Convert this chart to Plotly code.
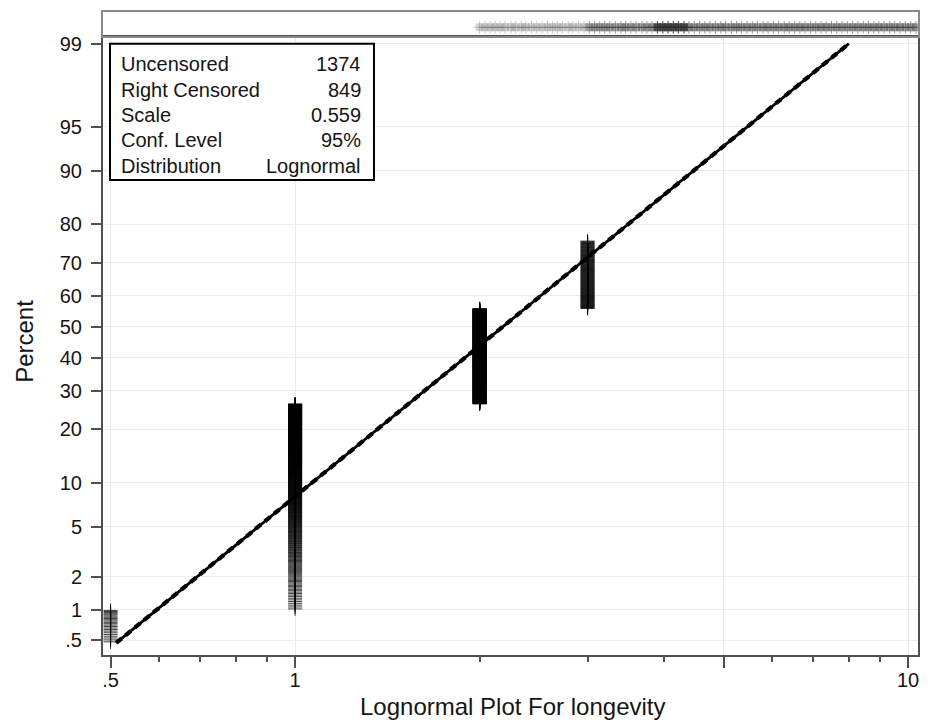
import math
from statistics import NormalDist
import plotly.graph_objects as go

nd = NormalDist()


def zq(pct):
    return nd.inv_cdf(pct / 100.0)


# ---------------- data ----------------
# uncensored (failure) groups: time, number of failures, percent range spanned by their plotting positions
fail_times = [0.5, 1, 2, 3]
fail_counts = [23, 575, 645, 131]
fail_pct_lo = [0.47, 1.0, 26.3, 55.9]
fail_pct_hi = [1.0, 26.3, 55.9, 76.0]

# right-censored times (rug in top strip) and their multiplicities
cens_times = [2.00, 2.04, 2.08, 2.12, 2.16, 2.20, 2.25, 2.29, 2.34, 2.38, 2.43, 2.48, 2.53, 2.58,
              2.63, 2.68, 2.73, 2.79, 2.84, 2.90, 2.96, 3.02, 3.08, 3.14, 3.20, 3.26, 3.33, 3.40,
              3.46, 3.53, 3.60, 3.68, 3.75, 3.82, 3.90, 3.98, 4.06, 4.14, 4.22, 4.31, 4.39, 4.48,
              4.57, 4.66, 4.75, 4.85, 4.95, 5.04, 5.15, 5.25, 5.35, 5.46, 5.57, 5.68, 5.80, 5.91,
              6.03, 6.15, 6.28, 6.40, 6.53, 6.66, 6.79, 6.93, 7.07, 7.21, 7.35, 7.50, 7.65, 7.80,
              7.96, 8.12, 8.28, 8.45, 8.62, 8.79, 8.96, 9.14, 9.33, 9.51, 9.70, 9.90, 10.10, 10.30]
cens_counts = [3, 3, 3, 3, 3, 3, 3, 3, 3, 3, 3, 3, 3, 3,
               3, 3, 3, 3, 3, 3, 3, 10, 10, 10, 10, 10, 10, 10,
               10, 10, 10, 10, 10, 10, 25, 25, 25, 25, 25, 25, 12, 11,
               11, 11, 11, 11, 11, 11, 11, 11, 11, 11, 11, 11, 11, 11,
               11, 11, 11, 11, 11, 11, 11, 11, 11, 11, 11, 11, 11, 11,
               11, 11, 11, 11, 11, 11, 11, 11, 11, 11, 11, 11, 11, 11]

# fitted lognormal parameters
fit_location = 0.78
fit_scale = 0.559
fit_line_pcts = [0.47, 99.0]

# axis ticks
y_tick_pcts = [0.5, 1, 2, 5, 10, 20, 30, 40, 50, 60, 70, 80, 90, 95, 99]
y_tick_text = [".5", "1", "2", "5", "10", "20", "30", "40", "50", "60", "70", "80", "90", "95", "99"]
x_tick_vals = [0.5, 1, 5, 10]
x_tick_text = [".5", "1", "", "10"]
x_minor_vals = [0.6, 0.7, 0.8, 0.9, 2, 3, 4, 6, 7, 8, 9]
x_range = [0.486, 10.38]
y_range_pct = [0.35, 99.14]

stats_labels = ["Uncensored", "Right Censored", "Scale", "Conf. Level", "Distribution"]
stats_values = ["1374", "849", "0.559", "95%", "Lognormal"]

# ---------------- figure ----------------
FONT = "Liberation Sans, Arial, Helvetica, sans-serif"
TXT = "#151515"
fig = go.Figure()

# plotting positions (equal rank steps within each tied group)
fx, fy = [], []
for t, n, lo, hi in zip(fail_times, fail_counts, fail_pct_lo, fail_pct_hi):
    for k in range(n):
        p = lo + (hi - lo) * (k + 0.5) / n
        fx.append(t)
        fy.append(zq(p))

fig.add_trace(go.Scatter(
    x=fx, y=fy, mode="markers", xaxis="x", yaxis="y", hoverinfo="skip",
    marker=dict(symbol="cross-thin", size=10, opacity=0.75,
                line=dict(color="black", width=1)),
    showlegend=False))

# fitted line (plus near-coincident dashed confidence line)
lx = [math.exp(fit_location + fit_scale * zq(p)) for p in fit_line_pcts]
ly = [zq(p) for p in fit_line_pcts]
fig.add_trace(go.Scatter(x=lx, y=ly, mode="lines", xaxis="x", yaxis="y",
                         line=dict(color="black", width=2.8), showlegend=False))
fig.add_trace(go.Scatter(x=lx, y=ly, mode="lines", xaxis="x", yaxis="y",
                         line=dict(color="black", width=4.2, dash="7px,5px"), showlegend=False))

# censored rug: shaded band under the crosses (density by multiplicity) + crosses
cens_y = [0.36] * len(cens_times)
fig.add_trace(go.Scatter(
    x=cens_times, y=cens_y, mode="markers", xaxis="x2", yaxis="y2", hoverinfo="skip",
    marker=dict(symbol="square", size=8,
                color=["rgba(60,60,60,%.2f)" % min(0.95, 0.12 + 0.03 * c) for c in cens_counts],
                line=dict(width=0)),
    showlegend=False))
fig.add_trace(go.Scatter(
    x=cens_times, y=cens_y, mode="markers", xaxis="x2", yaxis="y2", hoverinfo="skip",
    marker=dict(symbol="cross-thin", size=9,
                opacity=[min(1.0, 0.15 + 0.03 * c) for c in cens_counts],
                line=dict(color="#2a2a2a", width=1)),
    showlegend=False))

axis_col = "#505050"
fig.update_layout(
    width=930, height=724,
    margin=dict(l=103, r=12, t=8, b=69),
    paper_bgcolor="white", plot_bgcolor="white",
    font=dict(family=FONT, size=20, color=TXT),
    xaxis=dict(type="log", range=[math.log10(x_range[0]), math.log10(x_range[1])],
               domain=[0, 1], anchor="y",
               tickvals=x_tick_vals, ticktext=x_tick_text,
               ticks="outside", ticklen=11, tickwidth=1.5, tickcolor=axis_col,
               ticklabelstandoff=-5,
               showline=True, linecolor=axis_col, linewidth=2, mirror=True,
               showgrid=True, gridcolor="#ebebeb", gridwidth=1, zeroline=False,
               tickfont=dict(size=20, color=TXT),
               minor=dict(tickvals=x_minor_vals, ticks="outside", ticklen=5,
                          tickwidth=1.5, tickcolor=axis_col, showgrid=False)),
    yaxis=dict(range=[zq(y_range_pct[0]), zq(y_range_pct[1])], domain=[0, 0.9614],
               anchor="x",
               tickvals=[zq(p) for p in y_tick_pcts], ticktext=y_tick_text,
               ticks="outside", ticklen=10, tickwidth=1.5, tickcolor=axis_col,
               ticklabelstandoff=5,
               showline=True, linecolor=axis_col, linewidth=2, mirror=True,
               showgrid=True, gridcolor="#ebebeb", gridwidth=1, zeroline=False,
               tickfont=dict(size=20, color=TXT)),
    xaxis2=dict(type="log", range=[math.log10(x_range[0]), math.log10(x_range[1])],
                domain=[0, 1], anchor="y2", showticklabels=False, ticks="",
                showline=True, linecolor="#8a8a8a", linewidth=1.5, mirror=True,
                showgrid=False, zeroline=False),
    yaxis2=dict(range=[0, 1], domain=[0.9629, 1], anchor="x2", showticklabels=False,
                ticks="", showline=True, linecolor="#8a8a8a", linewidth=1.5, mirror=True,
                showgrid=False, zeroline=False),
)

# stats box
fig.add_shape(type="rect", xref="paper", yref="paper",
              x0=0.0086, x1=0.3325, y0=0.7388, y1=0.9505,
              line=dict(color="black", width=2), fillcolor="white", layer="above")
row_y = [0.9196, 0.8794, 0.8393, 0.8006, 0.7604]
for lab, val, yy in zip(stats_labels, stats_values, row_y):
    fig.add_annotation(x=0.0196, y=yy, xref="paper", yref="paper", text=lab,
                       showarrow=False, xanchor="left", yanchor="middle",
                       font=dict(size=20, color=TXT, family=FONT))
    fig.add_annotation(x=0.319, y=yy, xref="paper", yref="paper", text=val,
                       showarrow=False, xanchor="right", yanchor="middle",
                       font=dict(size=20, color=TXT, family=FONT))

# axis titles
fig.add_annotation(x=0.502, y=-0.0804, xref="paper", yref="paper",
                   text="Lognormal Plot For longevity", showarrow=False,
                   xanchor="center", yanchor="middle",
                   font=dict(size=24, color=TXT, family=FONT))
fig.add_annotation(x=-0.0957, y=0.487, xref="paper", yref="paper",
                   text="Percent", showarrow=False, textangle=-90,
                   xanchor="center", yanchor="middle",
                   font=dict(size=24, color=TXT, family=FONT))

fig.write_html("out.html", config={"displayModeBar": False},
               post_script="document.body.style.margin='0';document.body.style.overflow='hidden';")
